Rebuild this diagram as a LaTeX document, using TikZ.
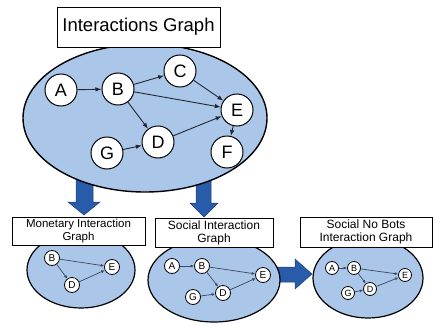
\documentclass[tikz,border=0pt]{standalone}
\usepackage{fontspec}
\setmainfont{Liberation Sans}
\usetikzlibrary{arrows.meta,shapes.geometric}
\definecolor{panelfill}{RGB}{170,198,232}
\definecolor{blockblue}{RGB}{40,92,170}
\definecolor{edgecol}{RGB}{35,40,50}
\definecolor{smalledge}{RGB}{60,72,95}
\tikzset{
  panel/.style={draw=black,fill=panelfill,line width=1.4pt},
  titlebox/.style={draw=black,fill=white,line width=0.9pt,inner sep=0pt,align=center},
  bignode/.style={circle,draw=black,fill=white,line width=1pt,minimum size=32pt,inner sep=0pt,font=\fontsize{18}{18}\selectfont},
  midnode/.style={circle,draw=black,fill=white,line width=0.8pt,minimum size=15pt,inner sep=0pt,font=\fontsize{10}{10}\selectfont},
  smallnode/.style={circle,draw=black,fill=white,line width=0.8pt,minimum size=13pt,inner sep=0pt,font=\fontsize{9}{9}\selectfont},
  bigedge/.style={draw=edgecol,line width=0.9pt,-{Latex[length=6pt,width=4.5pt]}},
  smalledgestyle/.style={draw=smalledge,line width=0.7pt,-{Latex[length=3.5pt,width=3pt]}},
  blockarrow/.style={fill=blockblue,draw=blockblue!70!black,line width=0.5pt}
}
\begin{document}
\begin{tikzpicture}[x=1pt,y=-1pt]
\useasboundingbox (0,0) rectangle (433,324);
% block arrows (behind panels)
\fill[blockarrow] (76,175) -- (93,175) -- (93,202) -- (100,202) -- (84,215) -- (68,202) -- (76,202) -- cycle;
\fill[blockarrow] (196,175) -- (211,175) -- (211,203) -- (218,203) -- (204,217) -- (190,203) -- (196,203) -- cycle;
\fill[blockarrow] (270,267) -- (295,267) -- (295,259) -- (312,274) -- (295,289) -- (295,282) -- (270,282) -- cycle;
% panels
\draw[panel] (145,118) ellipse [x radius=122pt, y radius=74pt];
\draw[panel,line width=1.2pt] (81,270) ellipse [x radius=54pt, y radius=38pt];
\draw[panel,line width=1.2pt] (214,280) ellipse [x radius=66pt, y radius=42pt];
\draw[panel,line width=1.2pt] (368,278) ellipse [x radius=55pt, y radius=40pt];
% title boxes
\node[titlebox,minimum width=163pt,minimum height=40pt,font=\fontsize{18.5}{20}\selectfont] (t0) at (138.5,27) {Interactions Graph};
\node[titlebox,minimum width=133pt,minimum height=28pt,font=\fontsize{11.5}{12.5}\selectfont] (t1) at (78.5,231) {Monetary Interaction\\Graph};
\node[titlebox,minimum width=118pt,minimum height=29pt,font=\fontsize{12}{13}\selectfont] (t2) at (214,232.5) {Social Interaction\\Graph};
\node[titlebox,minimum width=132pt,minimum height=30pt,font=\fontsize{12}{13}\selectfont] (t3) at (366,232) {Social No Bots\\Interaction Graph};
% main graph
\node[bignode] (A) at (61,90) {A};
\node[bignode] (B) at (118,89) {B};
\node[bignode] (C) at (180,71) {C};
\node[bignode] (E) at (237,110) {E};
\node[bignode] (D) at (158,142) {D};
\node[bignode] (G) at (107,153) {G};
\node[bignode] (F) at (227,152) {F};
\draw[bigedge] (A) -- (B);
\draw[bigedge] (B) -- (C);
\draw[bigedge] (B) -- (E);
\draw[bigedge] (B) -- (D);
\draw[bigedge] (C) -- (E);
\draw[bigedge] (D) -- (E);
\draw[bigedge] (G) -- (D);
\draw[bigedge] (E) -- (F);
% monetary graph
\node[midnode] (mB) at (52,258) {B};
\node[midnode] (mE) at (112,267) {E};
\node[midnode] (mD) at (72,285) {D};
\draw[smalledgestyle] (mB) -- (mE);
\draw[smalledgestyle] (mB) -- (mD);
\draw[smalledgestyle] (mD) -- (mE);
% social graph
\node[midnode] (sA) at (172,266) {A};
\node[midnode] (sB) at (202,266) {B};
\node[midnode] (sE) at (263,275) {E};
\node[midnode] (sD) at (223,293) {D};
\node[midnode] (sG) at (193,297) {G};
\draw[smalledgestyle] (sA) -- (sB);
\draw[smalledgestyle] (sB) -- (sE);
\draw[smalledgestyle] (sB) -- (sD);
\draw[smalledgestyle] (sG) -- (sD);
\draw[smalledgestyle] (sD) -- (sE);
% social no bots graph
\node[smallnode] (nA) at (332,268) {A};
\node[smallnode] (nB) at (354,268) {B};
\node[smallnode] (nE) at (405,275) {E};
\node[smallnode] (nD) at (370,289) {D};
\node[smallnode] (nG) at (348,293) {G};
\draw[smalledgestyle] (nA) -- (nB);
\draw[smalledgestyle] (nB) -- (nE);
\draw[smalledgestyle] (nB) -- (nD);
\draw[smalledgestyle] (nG) -- (nD);
\draw[smalledgestyle] (nD) -- (nE);
\end{tikzpicture}
\end{document}
